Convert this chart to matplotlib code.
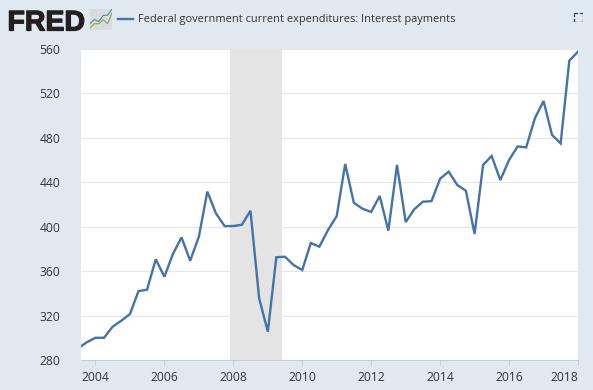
import matplotlib
matplotlib.use("Agg")
import matplotlib.pyplot as plt
import matplotlib.patheffects as pe
import datetime as dt

W, H = 593, 390
BG = "#e1e9f0"
LINE = "#4572a7"
TXT = "#333333"

years = [2003 + (i + 2) // 4 for i in range(59)]
months = [[1, 4, 7, 10][(i + 2) % 4] for i in range(59)]
dates = [dt.date(y, m, 1) for y, m in zip(years, months)]
values = [290.5, 296, 300, 300, 310, 315.4, 321.4, 342, 343.3, 370.6, 355, 375.4,
          390.4, 369.4, 391, 431.6, 412, 400.6, 400.6, 401.8, 414.4, 335.5, 305.5,
          372.5, 373, 365.5, 361, 385.3, 382, 397, 409.6, 456.5, 421.6, 416.2, 413.3,
          427.7, 396.4, 455.6, 404.2, 415.6, 422.5, 423, 443.2, 449.6, 437.6, 432.4,
          393.5, 455.6, 463.7, 442, 460, 472.3, 471.4, 497.6, 513.2, 482.6, 475,
          549.5, 557.6]
y_ticks = [280, 320, 360, 400, 440, 480, 520, 560]
x_tick_years = [2004, 2006, 2008, 2010, 2012, 2014, 2016, 2018]
rec_start, rec_end = dt.date(2007, 12, 1), dt.date(2009, 6, 1)
title = "Federal government current expenditures: Interest payments"

plt.rcParams["font.family"] = ["Open Sans", "DejaVu Sans"]
fig = plt.figure(figsize=(W / 100, H / 100), dpi=100, facecolor=BG)

def box(x0, y0, x1, y1):
    return [x0 / W, 1 - y1 / H, (x1 - x0) / W, (y1 - y0) / H]

ax = fig.add_axes(box(81, 49, 578, 360), facecolor="white")
ax.plot(dates, values, color=LINE, lw=1.7, solid_joinstyle="miter", zorder=4)
ax.axvspan(rec_start, rec_end, color="#e4e4e4", lw=0, zorder=3)
ax.set_xlim(dt.date(2003, 8, 1), dt.date(2018, 1, 1))
ax.set_ylim(280, 560)
ax.set_yticks(y_ticks)
ax.set_xticks([dt.date(y, 1, 1) for y in x_tick_years])
ax.set_xticklabels(["%d" % y for y in x_tick_years])
ax.grid(axis="y", color="#e6e6e6", lw=0.75, zorder=1)
ax.set_axisbelow(True)
for s in ["top", "left", "right"]:
    ax.spines[s].set_visible(False)
ax.spines["bottom"].set_color("#c0d0e0")
ax.spines["bottom"].set_linewidth(0.8)
ax.spines["bottom"].set_zorder(5)
ax.tick_params(axis="y", length=0, pad=15, labelsize=8.7, labelcolor=TXT)
ax.tick_params(axis="x", length=3.5, width=0.7, color="#c0d0e0", pad=4.2, labelsize=8.7, labelcolor=TXT)
ax.get_xticklabels()[-1].set_ha("right")

# Header: wordmark, icon, legend
fig.text(7.5 / W, 1 - 30.5 / H, "FRED", fontsize=20.5, fontweight="bold", color="#231f20",
         family=["Liberation Sans", "DejaVu Sans"],
         path_effects=[pe.withStroke(linewidth=0.9, foreground="#231f20")])

icon = fig.add_axes(box(90, 9, 112, 30))
icon.set_xlim(0, 10); icon.set_ylim(0, 10); icon.axis("off")
icon.add_patch(plt.Rectangle((0, 0), 10, 10, color="#d9dcdc", lw=0))
icon.plot([0, 2, 4, 6, 8, 10], [3, 5, 4, 7, 7, 10], color="#5f83a8", lw=0.8)
icon.plot([0, 2, 4, 6, 8, 10], [1, 3, 3, 5, 3, 8], color="#8aa85a", lw=0.8)

fig.add_artist(plt.Line2D([117.5 / W, 133 / W], [1 - 19 / H, 1 - 19 / H], color=LINE, lw=1.7))
fig.text(138 / W, 1 - 19.5 / H, title, fontsize=7.9, color=TXT, va="center", ha="left")

# Fullscreen corner glyph
fs = fig.add_axes(box(573, 12, 583, 22))
fs.set_xlim(0, 10); fs.set_ylim(10, 0); fs.axis("off")
for cx, cy, dx, dy in [(0.5, 0.5, 1, 1), (9.5, 0.5, -1, 1), (0.5, 9.5, 1, -1), (9.5, 9.5, -1, -1)]:
    fs.plot([cx + 3 * dx, cx, cx], [cy, cy, cy + 3 * dy], color="#34495e", lw=0.9)

fig.savefig("out.png", dpi=100, facecolor=BG)
